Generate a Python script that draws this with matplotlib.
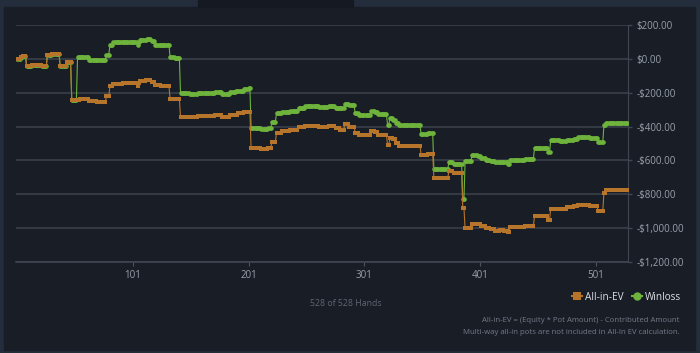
import matplotlib.pyplot as plt
import numpy as np
from matplotlib.lines import Line2D
from matplotlib.patches import Rectangle

# step segments: (first hand of segment, value in $)
ev_start = [1, 4, 6, 9, 14, 18, 22, 27, 31, 38, 44, 48, 55, 63, 70, 78, 81, 84, 92, 100,
            105, 106, 107, 112, 117, 120, 125, 133, 142, 150, 157, 165, 172, 178, 185, 192,
            197, 203, 212, 218, 221, 225, 230, 237, 244, 250, 262, 270, 276, 280, 284, 288,
            293, 296, 302, 307, 310, 313, 321, 323, 326, 328, 331, 345, 350, 356, 361, 374,
            378, 386, 388, 394, 399, 402, 406, 410, 414, 418, 422, 425, 427, 436, 440, 448,
            460, 462, 470, 476, 482, 486, 496, 503, 508, 510]
ev_value = [0, 10, 18, -45, -38, -35, -40, 25, 30, -45, -16, -243, -238, -250, -252, -222,
            -160, -146, -142, -144, -160, -145, -130, -125, -135, -155, -160, -237, -341,
            -345, -337, -340, -333, -343, -333, -320, -315, -529, -533, -525, -489, -436,
            -425, -418, -405, -396, -400, -395, -410, -420, -387, -400, -440, -452, -450,
            -424, -432, -450, -509, -469, -475, -499, -515, -512, -568, -560, -702, -663,
            -675, -882, -1002, -973, -978, -990, -1000, -1008, -1015, -1012, -1018, -1020,
            -996, -995, -990, -929, -953, -884, -884, -878, -872, -865, -870, -899, -791,
            -775]

wl_start = [1, 4, 6, 9, 14, 18, 22, 27, 31, 38, 44, 48, 53, 63, 78, 81, 84, 105, 106, 107,
            113, 117, 120, 133, 137, 142, 150, 157, 165, 172, 178, 185, 190, 197, 201, 203,
            212, 218, 221, 225, 230, 237, 244, 250, 262, 270, 276, 280, 284, 288, 293, 296,
            302, 307, 310, 313, 321, 323, 326, 328, 331, 345, 350, 356, 361, 374, 378, 386,
            388, 394, 399, 402, 406, 410, 414, 418, 422, 425, 427, 436, 440, 448, 460, 462,
            470, 476, 482, 486, 496, 503, 508, 510]
wl_value = [0, 10, 18, -45, -38, -35, -40, 25, 30, -45, -16, -243, 10, -6, 24, 83, 99, 83,
            100, 112, 115, 108, 83, 10, 5, -203, -206, -200, -203, -197, -205, -198, -190,
            -178, -173, -410, -416, -410, -371, -322, -315, -308, -290, -280, -283, -278,
            -290, -292, -266, -275, -322, -332, -330, -306, -315, -328, -390, -351, -360,
            -380, -390, -393, -446, -440, -651, -611, -620, -830, -602, -568, -572, -585,
            -595, -602, -610, -608, -612, -620, -598, -596, -592, -525, -552, -479, -484,
            -478, -472, -463, -466, -493, -390, -377]

n_hands = 528
x_ticks = [101, 201, 301, 401, 501]
y_ticks = [200, 0, -200, -400, -600, -800, -1000, -1200]


def expand(starts, values):
    lens = np.diff(starts + [n_hands + 1])
    return np.repeat(values, lens)


def money(v):
    if v < 0:
        return "-${:,.2f}".format(-v)
    return "${:,.2f}".format(v)


plt.rcParams['font.family'] = ['Open Sans', 'DejaVu Sans']

hands = np.arange(1, n_hands + 1)
all_in_ev = expand(ev_start, ev_value)
winloss = expand(wl_start, wl_value)

ORANGE = '#b7752b'
GREEN = '#6eb43c'
PANEL = '#181d26'
FRAME = '#242d3b'

fig = plt.figure(figsize=(7, 3.53), dpi=100)
fig.patch.set_facecolor(FRAME)
# inner panel and the dark tab at the top
fig.patches.append(Rectangle((3.5 / 700, 3 / 353), 691.5 / 700, 343.5 / 353,
                             transform=fig.transFigure, color=PANEL, zorder=-2))
fig.patches.append(Rectangle((198 / 700, 346.5 / 353), 155 / 700, 6.5 / 353,
                             transform=fig.transFigure, color='#151a22', zorder=-2))

ax = fig.add_axes([16 / 700, 1 - 262 / 353, 612 / 700, 237 / 353])
ax.set_zorder(1)
ax.set_facecolor(PANEL)

ax.plot(hands, winloss, color=GREEN, lw=0.8, marker='o', ms=3.3, mew=0, zorder=3)
ax.plot(hands, all_in_ev, color=ORANGE, lw=0.8, marker='s', ms=3.3, mew=0, zorder=4)

ax.set_xlim(-0.2, 528.8)
ax.set_ylim(-1200, 200)
ax.set_xticks(x_ticks)
ax.set_yticks(y_ticks)
ax.set_yticklabels([money(v) for v in y_ticks])
ax.yaxis.tick_right()
ax.grid(axis='y', color='#3a404b', lw=1.2)
ax.set_axisbelow(True)
for side in ['top', 'left']:
    ax.spines[side].set_visible(False)
ax.spines['right'].set_color('#3f4652')
ax.spines['bottom'].set_color('#3f4652')
ax.spines['bottom'].set_linewidth(1.2)
ax.tick_params(axis='x', colors='#4d5560', labelcolor='#9aa1ab', labelsize=7,
               length=3, width=0.8, pad=3)
ax.tick_params(axis='y', colors='#3f4652', labelcolor='#9aa1ab', labelsize=7,
               length=3, width=1.0, pad=3)

fig.text(346 / 700, 1 - 303 / 353, "528 of 528 Hands", color='#5f6672',
         fontsize=6.3, ha='center', va='center')

handles = [Line2D([], [], color=ORANGE, lw=1.5, marker='s', ms=6, mew=0),
           Line2D([], [], color=GREEN, lw=1.5, marker='o', ms=6, mew=0)]
fig.legend(handles, ["All-in-EV", "Winloss"], loc='center right',
           bbox_to_anchor=(681 / 700, 1 - 297 / 353), ncol=2, frameon=False,
           fontsize=7.2, labelcolor='#dde0e4', handlelength=1.0,
           handletextpad=0.3, columnspacing=0.8, borderpad=0, borderaxespad=0)

fig.text(680 / 700, 1 - 321 / 353, "All-in-EV = (Equity * Pot Amount) - Contributed Amount",
         color='#747c88', fontsize=5.6, ha='right', va='center')
fig.text(680 / 700, 1 - 332 / 353, "Multi-way all-in pots are not included in All-In EV calculation.",
         color='#747c88', fontsize=5.6, ha='right', va='center')

fig.savefig("out.png", dpi=100, facecolor=fig.get_facecolor())
